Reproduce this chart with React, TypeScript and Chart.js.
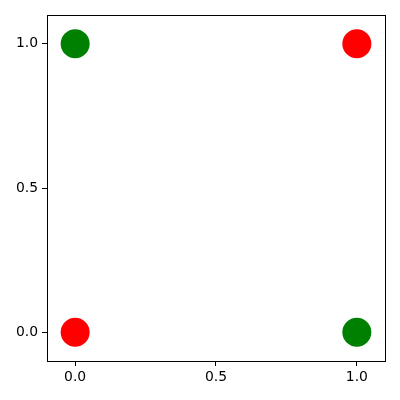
import React, { useEffect, useRef } from "react";
import { Chart, registerables } from "chart.js";

Chart.register(...registerables);

const redPoints = [
  { x: 0, y: 0 },
  { x: 1, y: 1 },
];
const greenPoints = [
  { x: 0, y: 1 },
  { x: 1, y: 0 },
];
const xTicks = [0, 0.5, 1.0];
const yTicks = [0, 0.5, 1.0];

const framePlugin = {
  id: "frame",
  afterDatasetsDraw(chart: any) {
    const { ctx, chartArea } = chart;
    ctx.save();
    ctx.strokeStyle = "#000";
    ctx.lineWidth = 1;
    ctx.strokeRect(
      Math.round(chartArea.left) + 0.5,
      Math.round(chartArea.top) + 0.5,
      Math.round(chartArea.right - chartArea.left),
      Math.round(chartArea.bottom - chartArea.top)
    );
    ctx.restore();
  },
};

export default function App() {
  const ref = useRef<HTMLCanvasElement>(null);
  useEffect(() => {
    document.body.style.margin = "0";
    const font = { family: "DejaVu Sans", size: 13.9 };
    const chart = new Chart(ref.current!, {
      type: "scatter",
      data: {
        datasets: [
          {
            data: greenPoints,
            backgroundColor: "#008000",
            borderColor: "#008000",
            borderWidth: 0,
            pointRadius: 14.5,
            pointHoverRadius: 14.5,
          },
          {
            data: redPoints,
            backgroundColor: "#ff0000",
            borderColor: "#ff0000",
            borderWidth: 0,
            pointRadius: 14.5,
            pointHoverRadius: 14.5,
          },
        ],
      },
      options: {
        animation: false,
        responsive: false,
        maintainAspectRatio: false,
        layout: { padding: { left: 0, top: 15, right: 15, bottom: 0 } },
        plugins: { legend: { display: false }, tooltip: { enabled: false } },
        scales: {
          x: {
            type: "linear",
            min: -0.1,
            max: 1.1,
            afterBuildTicks: (s: any) => {
              s.ticks = xTicks.map((v) => ({ value: v }));
            },
            afterFit: (s: any) => {
              s.height = 39;
            },
            grid: {
              drawOnChartArea: false,
              drawTicks: true,
              tickLength: 5,
              color: "#000",
            },
            border: { display: false },
            ticks: {
              color: "#000",
              font,
              padding: 3,
              maxRotation: 0,
              callback: (v: any) => Number(v).toFixed(1),
            },
          },
          y: {
            type: "linear",
            min: -0.1,
            max: 1.1,
            afterBuildTicks: (s: any) => {
              s.ticks = yTicks.map((v) => ({ value: v }));
            },
            afterFit: (s: any) => {
              s.width = 47;
            },
            grid: {
              drawOnChartArea: false,
              drawTicks: true,
              tickLength: 5,
              color: "#000",
            },
            border: { display: false },
            ticks: {
              color: "#000",
              font,
              padding: 4,
              callback: (v: any) => Number(v).toFixed(1),
            },
          },
        },
      },
      plugins: [framePlugin],
    });
    return () => chart.destroy();
  }, []);
  return (
    <div style={{ width: 400, height: 400 }}>
      <canvas ref={ref} width={400} height={400} style={{ display: "block" }} />
    </div>
  );
}
